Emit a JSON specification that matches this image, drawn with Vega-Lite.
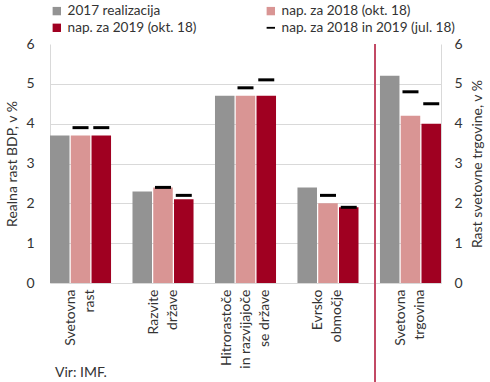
{
  "$schema": "https://vega.github.io/schema/vega-lite/v6.json",
  "width": 391,
  "height": 239,
  "padding": {"left": 5, "top": 4, "right": 5, "bottom": 0},
  "config": {
    "font": "Lato",
    "view": {"stroke": null},
    "axis": {"labelColor": "#333333", "titleColor": "#333333", "labelFontSize": 14, "titleFontSize": 14, "titleFontWeight": "normal", "ticks": false, "domainColor": "#d9d9d9", "gridColor": "#d9d9d9"}
  },
  "data": {
    "values": [
      {"cat": "Svetovna|rast", "series": "2017 realizacija", "value": 3.7, "jul": null},
      {"cat": "Svetovna|rast", "series": "nap. za 2018 (okt. 18)", "value": 3.7, "jul": 3.9},
      {"cat": "Svetovna|rast", "series": "nap. za 2019 (okt. 18)", "value": 3.7, "jul": 3.9},
      {"cat": "Razvite|države", "series": "2017 realizacija", "value": 2.3, "jul": null},
      {"cat": "Razvite|države", "series": "nap. za 2018 (okt. 18)", "value": 2.4, "jul": 2.4},
      {"cat": "Razvite|države", "series": "nap. za 2019 (okt. 18)", "value": 2.1, "jul": 2.2},
      {"cat": "Hitrorastoče|in razvijajoče|se države", "series": "2017 realizacija", "value": 4.7, "jul": null},
      {"cat": "Hitrorastoče|in razvijajoče|se države", "series": "nap. za 2018 (okt. 18)", "value": 4.7, "jul": 4.9},
      {"cat": "Hitrorastoče|in razvijajoče|se države", "series": "nap. za 2019 (okt. 18)", "value": 4.7, "jul": 5.1},
      {"cat": "Evrsko|območje", "series": "2017 realizacija", "value": 2.4, "jul": null},
      {"cat": "Evrsko|območje", "series": "nap. za 2018 (okt. 18)", "value": 2.0, "jul": 2.2},
      {"cat": "Evrsko|območje", "series": "nap. za 2019 (okt. 18)", "value": 1.9, "jul": 1.9},
      {"cat": "Svetovna|trgovina", "series": "2017 realizacija", "value": 5.2, "jul": null},
      {"cat": "Svetovna|trgovina", "series": "nap. za 2018 (okt. 18)", "value": 4.2, "jul": 4.8},
      {"cat": "Svetovna|trgovina", "series": "nap. za 2019 (okt. 18)", "value": 4.0, "jul": 4.5}
    ]
  },
  "title": {"text": "Vir: IMF.", "orient": "bottom", "anchor": "start", "frame": "group", "baseline": "top", "fontSize": 14, "fontWeight": "normal", "color": "#333333", "offset": -17, "dx": 5},
  "layer": [
    {
      "mark": {"type": "bar"},
      "encoding": {
        "x": {"field": "cat", "type": "nominal", "scale": {"domain": ["Svetovna|rast", "Razvite|države", "Hitrorastoče|in razvijajoče|se države", "Evrsko|območje", "Svetovna|trgovina"], "paddingInner": 0.26, "paddingOuter": 0},
          "axis": {"title": null, "labelAngle": -90, "labelAlign": "right", "labelBaseline": "middle", "labelPadding": 6, "labelLineHeight": 19, "labelExpr": "split(datum.label, '|')", "domain": true,
            "labelOffset": {"condition": {"test": "indexof(datum.label, 'Hitro') >= 0", "value": -19}, "value": -9.5}}},
        "xOffset": {"field": "series", "type": "nominal", "scale": {"paddingInner": 0.06}},
        "y": {"field": "value", "type": "quantitative", "scale": {"domain": [0, 6], "nice": false},
          "axis": {"orient": "left", "values": [0, 1, 2, 3, 4, 5, 6], "title": "Realna rast BDP, v %", "labelPadding": 16, "titlePadding": 6, "grid": true, "gridOpacity": {"condition": {"test": "datum.value == 0 || datum.value == 6", "value": 0}, "value": 1}}},
        "color": {"field": "series", "type": "nominal",
          "scale": {"domain": ["2017 realizacija", "nap. za 2018 (okt. 18)", "nap. za 2019 (okt. 18)", "nap. za 2018 in 2019 (jul. 18)"], "range": ["#939393", "#d99594", "#a00021", "#000000"]},
          "legend": {"orient": "top", "columns": 2, "direction": "horizontal", "title": null, "symbolSize": 70, "labelFontSize": 13.6, "labelLimit": 300, "labelColor": "#333333", "columnPadding": 67, "rowPadding": 2, "offset": 9,
            "encode": {"symbols": {"update": {"shape": {"signal": "datum.value === 'nap. za 2018 in 2019 (jul. 18)' ? 'M-1,-0.22H1V0.22H-1Z' : 'square'"}}}}}
        }
      }
    },
    {
      "transform": [{"filter": "datum.jul != null"}],
      "mark": {"type": "tick", "thickness": 3, "size": 16, "color": "#000000", "opacity": 1},
      "encoding": {
        "x": {"field": "cat", "type": "nominal"},
        "xOffset": {"field": "series", "type": "nominal"},
        "y": {"field": "jul", "type": "quantitative", "scale": {"domain": [0, 6], "nice": false},
          "axis": {"orient": "right", "values": [0, 1, 2, 3, 4, 5, 6], "title": "Rast svetovne trgovine, v %", "titleAngle": 270, "titleBaseline": "top", "labelPadding": 13, "titlePadding": 8, "grid": false}}
      }
    },
    {
      "mark": {"type": "rule", "color": "#c24a65", "strokeWidth": 1.2},
      "encoding": {
        "x": {"datum": "Svetovna|trgovina", "type": "nominal", "bandPosition": -0.08},
        "y": {"datum": 6, "type": "quantitative", "scale": {"domain": [0, 6], "nice": false}, "axis": null},
        "y2": {"datum": -2.5}
      }
    }
  ],
  "resolve": {"scale": {"y": "independent"}}
}
